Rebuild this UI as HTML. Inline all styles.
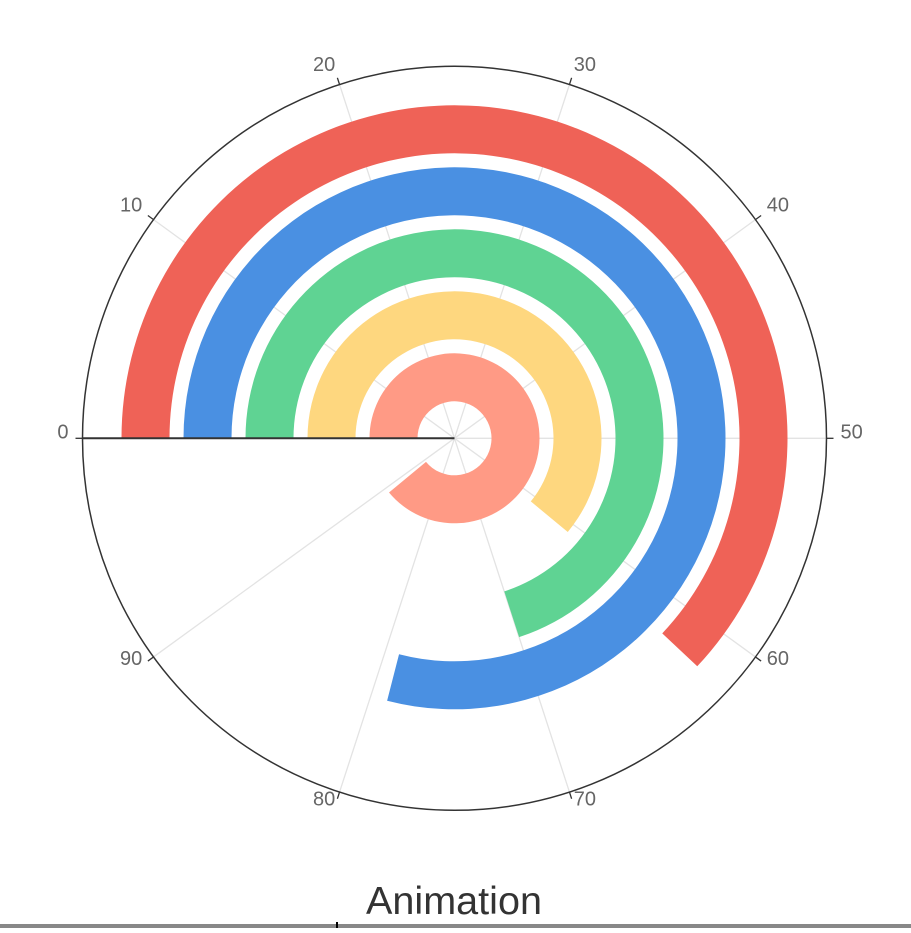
<!DOCTYPE html>
<html><head><meta charset="utf-8"><style>
body{margin:0;background:#fff;width:911px;height:928px;overflow:hidden;font-family:"Liberation Sans",sans-serif}
</style></head><body>
<svg id="chart" width="911" height="928" xmlns="http://www.w3.org/2000/svg">
<g id="grid"></g><g id="bars"></g><g id="axis"></g>
<text x="454" y="914" text-anchor="middle" font-size="39" fill="#333" font-family="Liberation Sans, sans-serif" textLength="176" lengthAdjust="spacingAndGlyphs">Animation</text>
<rect x="0" y="924" width="911" height="4" fill="#888"/>
<rect x="336" y="922" width="2" height="6" fill="#000"/>
</svg>
<script>
const categories = ['a','b','c','d','e'];
const values = [89, 61, 70, 79, 62];
const tickLabels = [0,10,20,30,40,50,60,70,80,90];
const colors = ['#ff9a85','#fed77f','#5fd393','#4a90e2','#ef6257'];
const cx=454.5, cy=438.3, R=372, maxV=100;
const ringCenter = i => 61 + 62*i, barW = 48;
const NS='http://www.w3.org/2000/svg';
function ang(v){ return (180 - v*360/maxV)*Math.PI/180; }
function pt(v,r){ const a=ang(v); return [cx+r*Math.cos(a), cy-r*Math.sin(a)]; }
function mk(tag,attrs,parent){ const e=document.createElementNS(NS,tag); for(const k in attrs) e.setAttribute(k,attrs[k]); parent.appendChild(e); return e; }
const grid=document.getElementById('grid'), bars=document.getElementById('bars'), axis=document.getElementById('axis');
tickLabels.forEach(t=>{
  const [x,y]=pt(t,R);
  const l=mk('line',{x1:cx,y1:cy,x2:x,y2:y,stroke:'#e3e3e3','stroke-width':1.3},grid);
  
  
  const [x1,y1]=pt(t,R+7);
  const tk=mk('line',{x1:x,y1:y,x2:x1,y2:y1,stroke:'#333','stroke-width':1.3},axis);
  
  
  const [lx,ly]=pt(t,R+14);
  const anchor = lx < cx-1 ? 'end' : (lx > cx+1 ? 'start' : 'middle');
  const tx=mk('text',{x:lx,y:ly,'text-anchor':anchor,'font-size':20,fill:'#666'},axis);
  tx.textContent=t;
  
  
});
const c=mk('circle',{cx:cx,cy:cy,r:R,fill:'none',stroke:'#333','stroke-width':1.5},axis);


const rl=mk('line',{x1:cx,y1:cy,x2:cx-R,y2:cy,stroke:'#333','stroke-width':2},axis);


categories.forEach((cat,i)=>{
  const r0=ringCenter(i)-barW/2, r1=ringCenter(i)+barW/2, v=values[i];
  const large = v*360/maxV>180?1:0;
  const [a,b]=pt(0,r1),[c2,d]=pt(v,r1),[e,f]=pt(v,r0),[g,h]=pt(0,r0);
  const p=mk('path',{d:`M${a},${b} A${r1},${r1} 0 ${large} 1 ${c2},${d} L${e},${f} A${r0},${r0} 0 ${large} 0 ${g},${h} Z`,fill:colors[i]},bars);
  
  
});
</script>
</body></html>
